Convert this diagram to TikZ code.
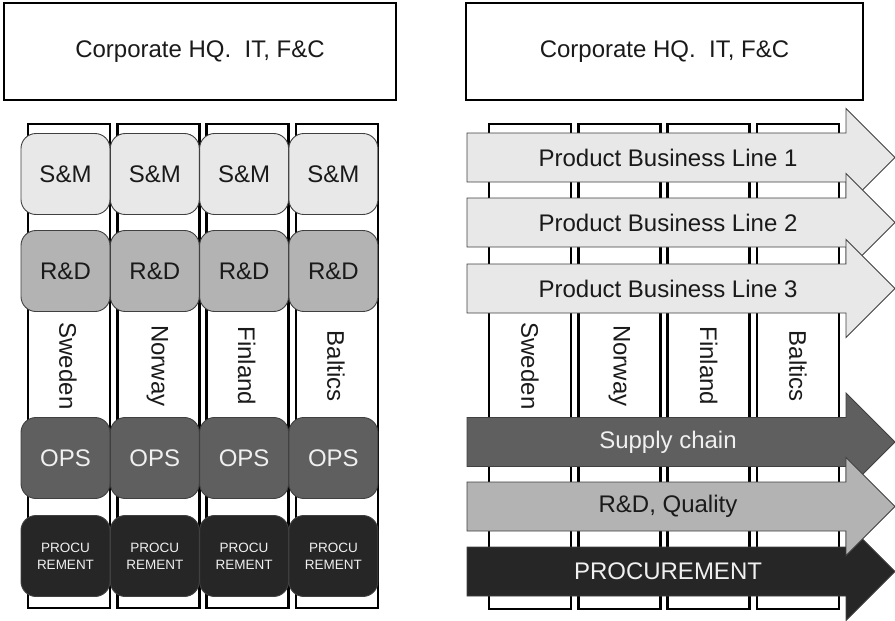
\documentclass[tikz,border=0pt]{standalone}
\usepackage{fontspec}
\setmainfont{Liberation Sans}
\definecolor{cLight}{HTML}{E8E8E8}
\definecolor{cMid}{HTML}{B3B3B3}
\definecolor{cDark}{HTML}{5F5F5F}
\definecolor{cDarkest}{HTML}{262626}
\definecolor{cEdge}{HTML}{404040}
\definecolor{cInk}{HTML}{1A1A1A}
\definecolor{cPale}{HTML}{F0F0F0}
\newcommand\bigtxt{\fontsize{24}{28}\selectfont}
\newcommand\smalltxt{\fontsize{13.5}{17}\selectfont}
\begin{document}
\begin{tikzpicture}[x=1pt,y=-1pt,
  col/.style={draw=black, line width=2.4pt, fill=white, minimum width=82pt, minimum height=484pt, inner sep=0pt},
  hq/.style={draw=black, line width=2.4pt, fill=white, minimum height=97pt, inner sep=0pt, font=\bigtxt, text=cInk},
  unit/.style={draw=cEdge, line width=0.9pt, rounded corners=15pt, minimum width=89pt, minimum height=81pt, inner sep=0pt, font=\bigtxt},
  country/.style={rotate=-90, font=\bigtxt, text=cInk, inner sep=0pt},
  arrowbody/.style={draw=cEdge, line width=0.9pt},
  arrowtext/.style={font=\bigtxt, inner sep=0pt}
]
\useasboundingbox (0,0) rectangle (895,621);

% ---------- left side ----------
\node[hq, minimum width=392pt] (hqL) at (200,51.5) {Corporate HQ.\ \ IT, F\&C};

\foreach \i/\c in {0/Sweden,1/Norway,2/Finland,3/Baltics}{
  \pgfmathsetmacro{\cx}{69+89.3*\i}
  \node[col] (lc\i) at (\cx,366) {};
  \node[country] (lcn\i) at (\cx-1,366) {\c};
}
\foreach \i in {0,1,2,3}{
  \pgfmathsetmacro{\bx}{65.5+89.3*\i}
  \node[unit, fill=cLight, text=cInk] (sm\i) at (\bx,174) {S\&M};
  \node[unit, fill=cMid, text=cInk] (rd\i) at (\bx,271) {R\&D};
  \node[unit, fill=cDark, text=cPale] (ops\i) at (\bx,458) {OPS};
  \node[unit, fill=cDarkest, text=cPale, font=\smalltxt, align=center] (pr\i) at (\bx,556) {PROCU\\REMENT};
}

% ---------- right side ----------
\node[hq, minimum width=397pt] (hqR) at (664.5,51.5) {Corporate HQ.\ \ IT, F\&C};

\foreach \i/\c in {0/Sweden,1/Norway,2/Finland,3/Baltics}{
  \pgfmathsetmacro{\cx}{530+89.3*\i}
  \node[col, minimum height=485pt] (rc\i) at (\cx,366.5) {};
  \node[country] (rcn\i) at (\cx,366) {\c};
}

\newcommand\bizarrow[5]{%
  \draw[arrowbody, fill=#2] (467,#1-24.5) -- (846,#1-24.5) -- (846,#1-49) -- (895,#1)
     -- (846,#1+49) -- (846,#1+24.5) -- (467,#1+24.5) -- cycle;
  \node[arrowtext, text=#3] (#5) at (668,#1) {#4};}

\bizarrow{157.5}{cLight}{cInk}{Product Business Line 1}{pbl1}
\bizarrow{222.5}{cLight}{cInk}{Product Business Line 2}{pbl2}
\bizarrow{288.5}{cLight}{cInk}{Product Business Line 3}{pbl3}
\bizarrow{442}{cDark}{cPale}{Supply chain}{sup}
\bizarrow{571.5}{cDarkest}{cPale}{PROCUREMENT}{proc}
\bizarrow{506.5}{cMid}{cInk}{R\&D, Quality}{rdq}
\end{tikzpicture}
\end{document}
